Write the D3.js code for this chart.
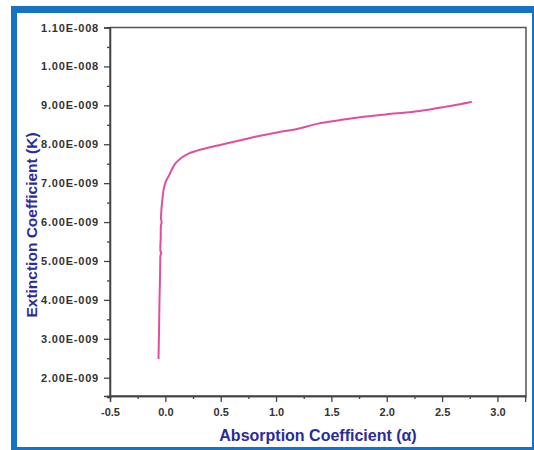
<!DOCTYPE html>
<html>
<head>
<meta charset="utf-8">
<script src="https://cdn.jsdelivr.net/npm/d3@7"></script>
<style>
    body { margin: 0; background: #fff; }
    .axis path, .axis line { stroke: #444; stroke-width: 1.3; }
    .axis text { font-family: Arial, "Liberation Sans", sans-serif; font-weight: bold; font-size: 11px; fill: #333; }
    .title { font-family: Arial, "Liberation Sans", sans-serif; font-weight: bold; font-size: 16px; fill: #2b2b9b; }
</style>
</head>
<body>
<div id="chart"></div>
<script>
// curve (alpha, K)
var alphaValues = [-0.062, -0.057, -0.053, -0.048, -0.046, -0.044, -0.036, -0.044, -0.042, -0.040, -0.034, -0.040, -0.038,
                   -0.032, -0.024, -0.017, -0.008, 0.005, 0.028, 0.055, 0.089, 0.140, 0.209, 0.280, 0.360, 0.460, 0.569, 0.690, 0.811,
                   1.020, 1.200, 1.380, 1.580, 1.774, 2.000, 2.226, 2.400, 2.528, 2.650, 2.768];
var kValues = [2.48e-9, 3.20e-9, 3.98e-9, 4.60e-9, 5.00e-9, 5.15e-9, 5.20e-9, 5.25e-9, 5.60e-9, 5.90e-9, 6.00e-9, 6.10e-9, 6.20e-9,
               6.45e-9, 6.65e-9, 6.81e-9, 6.93e-9, 7.05e-9, 7.17e-9, 7.33e-9, 7.50e-9, 7.64e-9, 7.76e-9, 7.83e-9, 7.89e-9, 7.96e-9, 8.03e-9, 8.11e-9, 8.19e-9,
               8.31e-9, 8.40e-9, 8.53e-9, 8.62e-9, 8.70e-9, 8.77e-9, 8.83e-9, 8.90e-9, 8.96e-9, 9.02e-9, 9.09e-9];

var xTicks = [-0.5, 0.0, 0.5, 1.0, 1.5, 2.0, 2.5, 3.0];
var xTickLabels = ["-0.5", "0.0", "0.5", "1.0", "1.5", "2.0", "2.5", "3.0"];
var yTicks = [2e-9, 3e-9, 4e-9, 5e-9, 6e-9, 7e-9, 8e-9, 9e-9, 1e-8, 1.1e-8];
var yTickLabels = ["2.00E-009", "3.00E-009", "4.00E-009", "5.00E-009", "6.00E-009", "7.00E-009", "8.00E-009", "9.00E-009", "1.00E-008", "1.10E-008"];

function init() {
    var w = 534;
    var h = 450;

    var left = 110, right = 526, top = 27.5, bottom = 396;

    var dataset = alphaValues.map(function(a, i) { return { a: a, k: kValues[i] }; });

    var xScale = d3.scaleLinear()
                   .domain([-0.5, 3.25])
                   .range([left, left + 3.75 * 110.7]);

    var yScale = d3.scaleLinear()
                   .domain([1.53e-9, 1.1e-8])
                   .range([bottom, top]);

    var svg = d3.select("#chart")
                .append("svg")
                .attr("width", w)
                .attr("height", h);

    //blue frame
    svg.append("rect")
        .attr("x", 11).attr("y", 6)
        .attr("width", 530).attr("height", 450)
        .attr("fill", "#1673c2");
    svg.append("rect")
        .attr("x", 17).attr("y", 13)
        .attr("width", 515).attr("height", 434)
        .attr("fill", "#fff");

    //plot box
    svg.append("rect")
        .attr("x", left).attr("y", top)
        .attr("width", right - left).attr("height", bottom - top)
        .attr("fill", "none")
        .attr("stroke", "#555")
        .attr("stroke-width", 1.5);

    //minor ticks
    var xMinor = d3.axisBottom(xScale)
                   .tickValues(d3.range(-0.25, 3.25, 0.5))
                   .tickSize(3)
                   .tickFormat("");
    var yMinor = d3.axisLeft(yScale)
                   .tickValues(yTicks.map(function(d) { return d - 5e-10; }))
                   .tickSize(3)
                   .tickFormat("");

    svg.append("g").attr("class", "axis")
        .attr("transform", "translate(0," + bottom + ")")
        .call(xMinor);
    svg.append("g").attr("class", "axis")
        .attr("transform", "translate(" + left + ",0)")
        .call(yMinor);

    //major ticks
    var xAxis = d3.axisBottom(xScale)
                  .tickValues(xTicks)
                  .tickSize(6)
                  .tickPadding(6)
                  .tickFormat(function(d, i) { return xTickLabels[i]; });

    var yAxis = d3.axisLeft(yScale)
                  .tickValues(yTicks)
                  .tickSize(6)
                  .tickPadding(5)
                  .tickFormat(function(d, i) { return yTickLabels[i]; });

    svg.append("g").attr("class", "axis")
        .attr("transform", "translate(0," + bottom + ")")
        .call(xAxis);

    svg.append("g").attr("class", "axis")
        .attr("transform", "translate(" + left + ",0)")
        .call(yAxis)
        .selectAll("text")
        .style("letter-spacing", "0.8px");

    //curve
    var line = d3.line()
                 .x(function(d) { return xScale(d.a); })
                 .y(function(d) { return yScale(d.k); })
                 .curve(d3.curveCatmullRom.alpha(0.5));

    svg.append("path")
        .datum(dataset)
        .attr("fill", "none")
        .attr("stroke", "#df4fa0")
        .attr("stroke-width", 2)
        .attr("d", line);

    //axis titles
    svg.append("text")
        .attr("class", "title")
        .attr("x", 318)
        .attr("y", 441)
        .attr("text-anchor", "middle")
        .text("Absorption Coefficient (α)");

    svg.append("text")
        .attr("class", "title")
        .attr("transform", "translate(37,225) rotate(-90)")
        .attr("text-anchor", "middle")
        .style("font-size", "15.5px")
        .text("Extinction Coefficient (K)");
}
window.onload = init;
</script>
</body>
</html>
